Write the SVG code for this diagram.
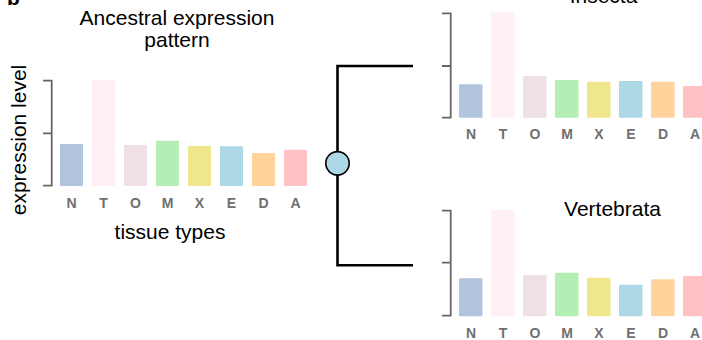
<svg xmlns="http://www.w3.org/2000/svg" width="702" height="340" viewBox="0 0 702 340">
<style>
  .t { font-family: "Liberation Sans", Arial, sans-serif; fill: #000; }
  .title { font-size: 21px; text-anchor: middle; }
  .lab { font-family: "Liberation Sans", Arial, sans-serif; font-size: 14px; font-weight: bold; fill: #707070; text-anchor: middle; }
  .axis { fill: none; stroke: #666; stroke-width: 1.8; }
  .conn { fill: none; stroke: #000; stroke-width: 2.6; }
  .N { fill: #B0C4DE; } .T { fill: #FFF0F5; } .O { fill: #EEE0E5; } .M { fill: #B4EEB4; }
  .X { fill: #F0E68C; } .E { fill: #ADD8E6; } .D { fill: #FFD39B; } .A { fill: #FFC1C1; }
</style>
<text class="t" x="7" y="5" font-size="21" font-weight="bold">b</text>

<g id="ancestral">
  <text class="t title" x="177" y="25">Ancestral expression</text>
  <text class="t title" x="177" y="47">pattern</text>
  <text class="t title" transform="translate(26,140) rotate(-90)">expression level</text>
  <path class="axis" d="M43,80.7 H51.7 V185.7 H43 M43,133.3 H51.7"/>
  <rect class="N" x="60" y="144" width="23" height="42" rx="1"/>
  <rect class="T" x="92" y="80.3" width="23" height="105.7" rx="1"/>
  <rect class="O" x="124" y="145" width="23" height="41" rx="1"/>
  <rect class="M" x="156" y="140.7" width="23" height="45.3" rx="1"/>
  <rect class="X" x="188" y="146" width="23" height="40" rx="1"/>
  <rect class="E" x="220" y="146.3" width="23" height="39.7" rx="1"/>
  <rect class="D" x="252" y="153" width="23" height="33" rx="1"/>
  <rect class="A" x="284" y="149.7" width="23" height="36.3" rx="1"/>
  <g class="lab">
    <text x="71.5" y="208">N</text><text x="103.5" y="208">T</text><text x="135.5" y="208">O</text><text x="167.5" y="208">M</text>
    <text x="199.5" y="208">X</text><text x="231.5" y="208">E</text><text x="263.5" y="208">D</text><text x="295.5" y="208">A</text>
  </g>
  <text class="t title" x="170" y="239">tissue types</text>
</g>

<g id="insecta">
  <text class="t title" x="603.5" y="3">Insecta</text>
  <path class="axis" d="M442,13.3 H450.7 V117.7 H442 M442,66 H450.7"/>
  <rect class="N" x="459" y="84.3" width="23.5" height="33.4" rx="1"/>
  <rect class="T" x="491" y="12.3" width="23.5" height="105.4" rx="1"/>
  <rect class="O" x="523" y="76" width="23.5" height="41.7" rx="1"/>
  <rect class="M" x="555" y="80" width="23.5" height="37.7" rx="1"/>
  <rect class="X" x="587" y="81.7" width="23.5" height="36" rx="1"/>
  <rect class="E" x="619" y="81" width="23.5" height="36.7" rx="1"/>
  <rect class="D" x="651" y="81.7" width="23.5" height="36" rx="1"/>
  <rect class="A" x="683" y="86" width="23.5" height="31.7" rx="1"/>
  <g class="lab">
    <text x="471" y="139">N</text><text x="503" y="139">T</text><text x="535" y="139">O</text><text x="567" y="139">M</text>
    <text x="599" y="139">X</text><text x="631" y="139">E</text><text x="663" y="139">D</text><text x="695" y="139">A</text>
  </g>
</g>

<g id="vertebrata">
  <text class="t title" x="612.5" y="216">Vertebrata</text>
  <path class="axis" d="M442,210.7 H450.7 V315.7 H442 M442,262.7 H450.7"/>
  <rect class="N" x="459" y="278.3" width="23.5" height="38" rx="1"/>
  <rect class="T" x="491" y="210" width="23.5" height="106.3" rx="1"/>
  <rect class="O" x="523" y="275" width="23.5" height="41.3" rx="1"/>
  <rect class="M" x="555" y="272.7" width="23.5" height="43.6" rx="1"/>
  <rect class="X" x="587" y="277.7" width="23.5" height="38.6" rx="1"/>
  <rect class="E" x="619" y="284.7" width="23.5" height="31.6" rx="1"/>
  <rect class="D" x="651" y="279.3" width="23.5" height="37" rx="1"/>
  <rect class="A" x="683" y="276" width="23.5" height="40.3" rx="1"/>
  <g class="lab">
    <text x="471" y="338">N</text><text x="503" y="338">T</text><text x="535" y="338">O</text><text x="567" y="338">M</text>
    <text x="599" y="338">X</text><text x="631" y="338">E</text><text x="663" y="338">D</text><text x="695" y="338">A</text>
  </g>
</g>

<g id="connectors">
  <path class="conn" d="M413,66 H337.5 V265.3 H413"/>
  <circle cx="337.5" cy="163.3" r="11.7" fill="#ADD8E6" stroke="#000" stroke-width="1.6"/>
</g>
</svg>
